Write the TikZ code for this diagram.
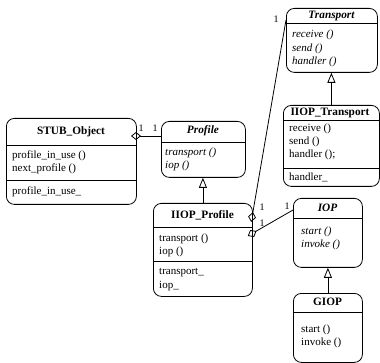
\documentclass[tikz,border=0pt]{standalone}
\usepackage{fontspec}
\setmainfont{Liberation Serif}
\usetikzlibrary{arrows.meta}
\tikzset{
  cls/.style={draw, rounded corners=8pt, line width=0.8pt, inner sep=0pt, anchor=north west},
  sepline/.style={line width=0.8pt},
  ttl/.style={font=\bfseries\fontsize{11.3}{13}\selectfont, inner sep=0pt},
  ttli/.style={font=\bfseries\itshape\fontsize{11.3}{13}\selectfont, inner sep=0pt},
  txt/.style={font=\fontsize{11}{13}\selectfont, anchor=west, inner sep=0pt},
  txti/.style={font=\itshape\fontsize{11}{13}\selectfont, anchor=west, inner sep=0pt},
  mult/.style={font=\fontsize{10}{12}\selectfont, inner sep=0pt},
  gen/.style={line width=0.8pt, -{Triangle[open, length=10pt, width=8pt]}},
  agg/.style={line width=0.8pt, {Diamond[open, length=10pt, width=8pt]}-},
}
\begin{document}
\begin{tikzpicture}[x=1pt, y=-1pt]
\useasboundingbox (0,0) rectangle (380,363);

% STUB_Object
\node[cls, minimum width=130pt, minimum height=86pt] (stub) at (6,118) {};
\node[ttl] (stubt) at (71,132) {STUB\_Object};
\draw[sepline] (stub.west |- 0,145) -- (stub.east |- 0,145);
\draw[sepline] (stub.west |- 0,180) -- (stub.east |- 0,180);
\node[txt] (stubm1) at (12,156) {profile\_in\_use ()};
\node[txt] (stubm2) at (12,169) {next\_profile ()};
\node[txt] (stuba1) at (12,192) {profile\_in\_use\_};

% Profile
\node[cls, minimum width=84pt, minimum height=56pt] (profile) at (161,121) {};
\node[ttli] (profilet) at (203,131) {Profile};
\draw[sepline] (profile.west |- 0,142) -- (profile.east |- 0,142);
\node[txti] (profilem1) at (165,153) {transport ()};
\node[txti] (profilem2) at (165,166) {iop ()};

% IIOP_Profile
\node[cls, minimum width=99pt, minimum height=93pt] (iprofile) at (153,203) {};
\node[ttl] (iprofilet) at (202.5,215) {IIOP\_Profile};
\draw[sepline] (iprofile.west |- 0,227) -- (iprofile.east |- 0,227);
\draw[sepline] (iprofile.west |- 0,261) -- (iprofile.east |- 0,261);
\node[txt] (iprofilem1) at (159,239) {transport ()};
\node[txt] (iprofilem2) at (159,252) {iop ()};
\node[txt] (iprofilea1) at (159,273) {transport\_};
\node[txt] (iprofilea2) at (159,286) {iop\_};

% Transport
\node[cls, minimum width=91pt, minimum height=64pt] (transport) at (286,8) {};
\node[ttli] (transportt) at (331.5,16) {Transport};
\draw[sepline] (transport.west |- 0,23) -- (transport.east |- 0,23);
\node[txti] (transportm1) at (292,35) {receive ()};
\node[txti] (transportm2) at (292,48.5) {send ()};
\node[txti] (transportm3) at (292,62) {handler ()};

% IIOP_Transport
\node[cls, minimum width=96pt, minimum height=81pt] (itransport) at (283,105) {};
\node[ttl] (itransportt) at (330,113) {IIOP\_Transport};
\draw[sepline] (itransport.west |- 0,120) -- (itransport.east |- 0,120);
\draw[sepline] (itransport.west |- 0,168) -- (itransport.east |- 0,168);
\node[txt] (itransportm1) at (289,129) {receive ()};
\node[txt] (itransportm2) at (289,142) {send ()};
\node[txt] (itransportm3) at (289,155) {handler ();};
\node[txt] (itransporta1) at (289,177) {handler\_};

% IOP
\node[cls, minimum width=69pt, minimum height=69pt] (iop) at (293,198) {};
\node[ttli] (iopt) at (327.5,208) {IOP};
\draw[sepline] (iop.west |- 0,218) -- (iop.east |- 0,218);
\node[txti] (iopm1) at (301,232) {start ()};
\node[txti] (iopm2) at (301,245) {invoke ()};

% GIOP
\node[cls, minimum width=69pt, minimum height=69pt] (giop) at (293,293) {};
\node[ttl] (giopt) at (327.5,302) {GIOP};
\draw[sepline] (giop.west |- 0,312) -- (giop.east |- 0,312);
\node[txt] (giopm1) at (301,330) {start ()};
\node[txt] (giopm2) at (301,343) {invoke ()};

% Generalizations
\draw[gen] (iprofile.north) -- (iprofile.north |- profile.south);
\draw[gen] (itransport.north) -- (itransport.north |- transport.south);
\draw[gen] (giop.north) -- (giop.north |- iop.south);

% Aggregations
\coordinate (a1s) at (131,136);
\coordinate (a1e) at (profile.west |- 0,136);
\draw[agg] (a1s) -- (a1e);
\node[mult] (m1) at (141,128) {1};
\node[mult] (m2) at (155,128) {1};

\coordinate (a2s) at (251.2,222);
\coordinate (a2e) at (transport.west |- 0,20);
\draw[agg] (a2s) -- (a2e);
\node[mult] (m3) at (276,19) {1};
\node[mult] (m4) at (262,207) {1};

\coordinate (a3s) at (247.8,236);
\coordinate (a3e) at (iop.west |- 0,210);
\draw[agg] (a3s) -- (a3e);
\node[mult] (m5) at (262,223) {1};
\node[mult] (m6) at (287,206) {1};
\end{tikzpicture}
\end{document}
